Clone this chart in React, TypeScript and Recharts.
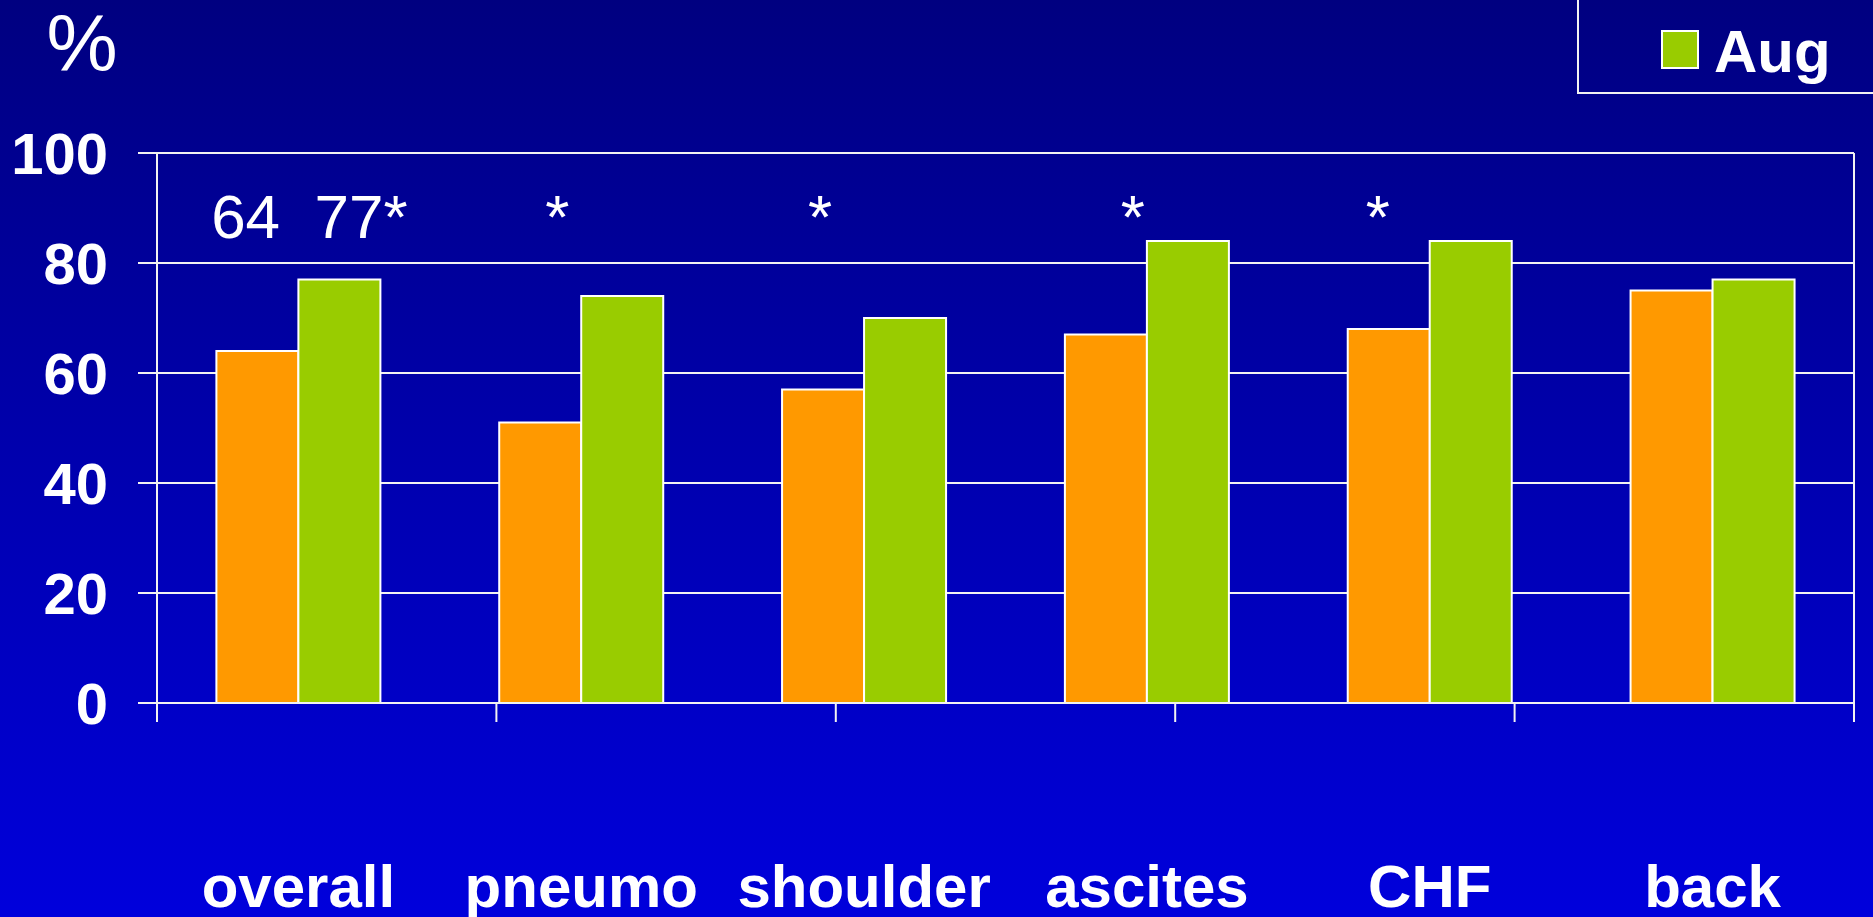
import React from 'react'
import { Bar, BarChart, CartesianGrid, LabelList, XAxis, YAxis } from 'recharts'

const categories = ['overall', 'pneumo', 'shoulder', 'ascites', 'CHF', 'back']
const earlierValues = [64, 51, 57, 67, 68, 75]
const augValues = [77, 74, 70, 84, 84, 77]
const annotations = ['64  77*', '*', '*', '*', '*', '']
const yTicks = [0, 20, 40, 60, 80, 100]
const boundaryTicks = [0, 1, 2, 3, 4, 5, 6]

const data = categories.map((name, i) => ({
  name,
  earlier: earlierValues[i],
  aug: augValues[i],
  note: annotations[i],
}))

const W = 1873
const H = 917
const PLOT_TOP = 153
const FONT = '"Liberation Sans", Arial, Helvetica, sans-serif'
const ORANGE = '#FF9900'
const GREEN = '#99CC00'
const LINE = '#F2F2F2'

// hand placed text in the original slide, nudged from the group centre
const noteShift = [11, -24, -44, -14, -52, 0]

function renderNote(props: any) {
  const { x, width, index } = props
  const text = annotations[index]
  if (!text) return null
  const center = Number(x) + Number(width)
  return (
    <text
      x={center + noteShift[index]}
      y={PLOT_TOP + 85}
      textAnchor="middle"
      fill="#FFFFFF"
      fontSize={62}
      fontFamily={FONT}
      style={{ whiteSpace: 'pre' }}
    >
      {text}
    </text>
  )
}

function CategoryTick(props: any) {
  const { x, y, payload } = props
  return (
    <text
      x={x}
      y={Number(y) + 203}
      textAnchor="middle"
      fill="#FFFFFF"
      fontSize={60}
      fontWeight="bold"
      fontFamily={FONT}
    >
      {payload.value}
    </text>
  )
}

function PercentLabel(props: any) {
  const { viewBox } = props
  return (
    <text x={82} y={viewBox.y - 82} textAnchor="middle" fill="#FFFFFF" fontSize={80} fontFamily={FONT}>
      %
    </text>
  )
}

export default function App() {
  return (
    <div
      style={{
        position: 'absolute',
        left: 0,
        top: 0,
        width: W,
        height: H,
        overflow: 'hidden',
        background: 'linear-gradient(to bottom, #000080 0%, #0000DC 100%)',
        fontFamily: FONT,
      }}
    >
      <BarChart
        width={W}
        height={H}
        data={data}
        margin={{ top: PLOT_TOP, right: 19, bottom: 0, left: 0 }}
        barCategoryGap="21%"
        barGap={0}
      >
        <CartesianGrid
          xAxisId={1}
          stroke={LINE}
          strokeWidth={2}
          vertical
          verticalCoordinatesGenerator={({ offset }: any) => [offset.left + offset.width]}
        />
        {/* boundary ticks between the groups */}
        <XAxis
          xAxisId={0}
          type="number"
          domain={[0, 6]}
          ticks={boundaryTicks}
          allowDataOverflow
          height={1}
          tickSize={19}
          axisLine={{ stroke: LINE, strokeWidth: 2 }}
          tickLine={{ stroke: LINE, strokeWidth: 2 }}
          tick={() => <g />}
        />
        <XAxis
          xAxisId={1}
          dataKey="name"
          height={213}
          axisLine={false}
          tickLine={false}
          tickSize={0}
          tickMargin={0}
          interval={0}
          tick={<CategoryTick />}
        />
        <YAxis
          width={157}
          domain={[0, 100]}
          ticks={yTicks}
          interval={0}
          tickSize={19}
          tickMargin={30}
          axisLine={{ stroke: LINE, strokeWidth: 2 }}
          tickLine={{ stroke: LINE, strokeWidth: 2 }}
          tick={{ fill: '#FFFFFF', fontSize: 58, fontWeight: 'bold', fontFamily: FONT }}
          label={{ content: <PercentLabel /> }}
        />
        <Bar
          xAxisId={1}
          dataKey="earlier"
          name="earlier"
          fill={ORANGE}
          stroke="#FFFFFF"
          strokeWidth={2}
          isAnimationActive={false}
        >
          <LabelList dataKey="note" content={renderNote} />
        </Bar>
        <Bar
          xAxisId={1}
          dataKey="aug"
          name="Aug"
          fill={GREEN}
          stroke="#FFFFFF"
          strokeWidth={2}
          isAnimationActive={false}
        />
      </BarChart>

      <div
        style={{
          position: 'absolute',
          left: 1577,
          top: -20,
          width: 400,
          height: 114,
          border: `2px solid ${LINE}`,
          boxSizing: 'border-box',
        }}
      />
      <div
        style={{
          position: 'absolute',
          left: 1661,
          top: 30,
          width: 38,
          height: 39,
          background: GREEN,
          border: '2px solid #FFFFFF',
          boxSizing: 'border-box',
        }}
      />
      <div
        style={{
          position: 'absolute',
          left: 1714,
          top: 17,
          color: '#FFFFFF',
          fontSize: 60,
          fontWeight: 'bold',
          lineHeight: '69px',
          fontFamily: FONT,
        }}
      >
        Aug
      </div>
    </div>
  )
}
